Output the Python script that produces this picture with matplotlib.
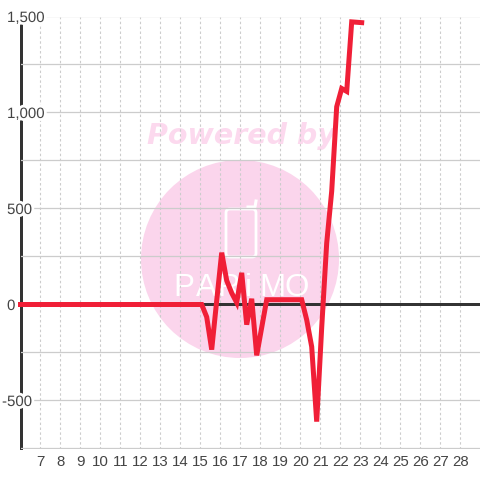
import matplotlib
matplotlib.use("Agg")
import matplotlib.pyplot as plt
import matplotlib.patheffects as pe
from matplotlib.patches import Ellipse, FancyBboxPatch
from matplotlib.transforms import ScaledTranslation

# values
days = [6, 15.06, 15.31, 15.56, 15.81, 16.06, 16.31, 16.56, 16.81, 17.06, 17.31, 17.56, 17.81, 18.06, 18.31,
        18.56, 19.06, 19.56, 20.06, 20.31, 20.56, 20.81, 21.06, 21.31, 21.56, 21.81, 22.06, 22.31, 22.56, 23.06]
values = [0, 0, -65, -235, 20, 270, 125, 60, 10, 165, -105, 30, -265, -120, 25,
          25, 25, 25, 25, -80, -220, -610, -120, 320, 590, 1030, 1125, 1110, 1472, 1468]
x_ticks = list(range(7, 29))
y_major = [-500, 0, 500, 1000, 1500]
y_minor = [-750, -250, 250, 750, 1250]
y_labels = ["-500", "0", "500", "1,000", "1,500"]

RED = "#f01f37"
DARK = "#333333"
GRID = "#cccccc"
PINK = "#fbd5ec"
TEXT = "#444444"

plt.rcParams["font.family"] = "Liberation Sans"

W = 480
fig = plt.figure(figsize=(4.8, 4.8), dpi=100)


def fx(px):
    return px / W


def fy(py):
    return 1 - py / W


ax = fig.add_axes([fx(20.5), fy(448.5), fx(480 - 20.5), fy(16.5) - fy(448.5)])
ax.patch.set_alpha(0)
ax.set_xlim(6, 7 + (480 - 40.5) / 20)
ax.set_ylim(-750, 1500)

# watermark sits in figure pixels behind the axes
fig.add_artist(Ellipse((fx(240), fy(259)), 198 / W, 198 / W, transform=fig.transFigure, fc=PINK, ec="none", zorder=-5))
fig.text(fx(241.5), fy(135.5), "Powered by", color="#fcd9ee", fontsize=20.5, fontweight="bold", fontstyle="italic",
         family="DejaVu Sans", ha="center", va="center", zorder=-4)
fig.add_artist(FancyBboxPatch((fx(226), fy(257)), 30 / W, 48 / W, boxstyle="round,pad=0,rounding_size=0.008",
                              transform=fig.transFigure, fc="none", ec="white", lw=2, zorder=-4))
fig.add_artist(plt.Line2D([fx(248), fx(255), fx(256)], [fy(207), fy(207), fy(201)], color="white", lw=2.2, zorder=-4))
for letter, px in zip("PARiMO", [184, 206, 229, 248, 272, 297]):
    fig.text(fx(px), fy(288), letter, color="white", fontsize=22.5, ha="center", va="center", zorder=-4)

ax.set_axisbelow(True)
for side in ["top", "right", "bottom"]:
    ax.spines[side].set_visible(False)
ax.spines["left"].set_linewidth(2.16)
ax.spines["left"].set_color(DARK)
ax.spines["left"].set_zorder(0.4)

ax.set_xticks(x_ticks)
ax.set_yticks(y_major)
ax.set_yticks(y_minor, minor=True)
ax.set_yticklabels(y_labels)
ax.grid(axis="x", color=GRID, lw=0.8, linestyle=(0, (2.2, 2.2)))
ax.grid(axis="y", which="both", color=GRID, lw=0.9)
ax.tick_params(axis="both", which="both", length=0)
ax.tick_params(axis="x", labelsize=10.8, labelcolor=TEXT, pad=5)
ax.tick_params(axis="y", labelsize=10.8, labelcolor=TEXT, pad=9.7)

halo = [pe.withStroke(linewidth=4, foreground="white")]
for label, text in zip(ax.get_yticklabels(), y_labels):
    label.set_horizontalalignment("left")
    label.set_path_effects(halo)
    if text == "-500":
        label.set_transform(label.get_transform() + ScaledTranslation(-5 / 100, 0, fig.dpi_scale_trans))

ax.axhline(0, color=DARK, lw=2.16, zorder=1)
ax.plot(days, values, color=RED, lw=3.6, solid_capstyle="projecting", solid_joinstyle="miter", clip_on=False, zorder=3)

fig.savefig("out.png", dpi=100)
